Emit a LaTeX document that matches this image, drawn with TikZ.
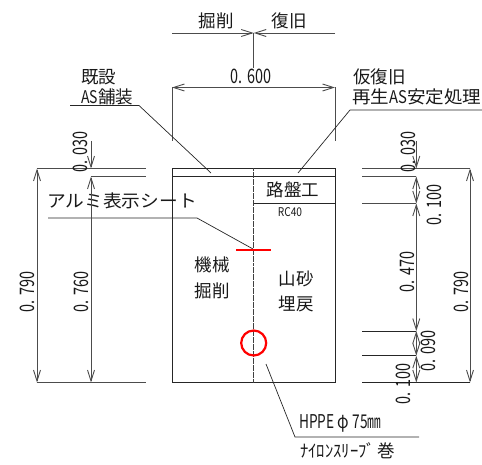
\documentclass[tikz,border=0pt]{standalone}
\usepackage{fontspec}
\setmainfont{Noto Sans CJK JP}
\usetikzlibrary{arrows.meta}
\newcommand{\sqz}[2]{\scalebox{#1}[1]{#2}}
\tikzset{
  ln/.style={draw=black!85,line width=0.9pt},
  dim/.style={draw=black!70,line width=0.9pt},
  dimb/.style={dim,{Straight Barb[length=11pt,width=7pt]}-{Straight Barb[length=11pt,width=7pt]}},
  dime/.style={dim,-{Straight Barb[length=11pt,width=7pt]}},
  lead/.style={draw=black!85,line width=0.7pt},
  red/.style={draw=red,line width=2.2pt},
  lab/.style={inner sep=0pt,font=\fontsize{17.5}{17.5}\selectfont,text=black!90},
  num/.style={lab,font=\fontsize{20}{20}\selectfont,rotate=90},
  numh/.style={lab,font=\fontsize{20}{20}\selectfont},
}
\begin{document}
\begin{tikzpicture}[x=1pt,y=-1pt]
\useasboundingbox (0,0) rectangle (482,465);
% section box
\coordinate (tl) at (172,168.5); \coordinate (tr) at (335,168.5);
\coordinate (sl) at (172,176.5); \coordinate (sr) at (335,176.5);
\coordinate (bl) at (172,382.5); \coordinate (br) at (335,382.5);
\coordinate (ct) at (253.7,168.5); \coordinate (cb) at (253.7,382.5);
\coordinate (bm) at (253.7,203.5); \coordinate (bm2) at (335,203.5);
\draw[ln] (tl) -- (tr) -- (br) -- (bl) -- cycle;
\draw[ln] (sl) -- (sr);
\draw[ln] (bm) -- (bm2);
\draw[draw=black!75,line width=0.7pt,dash pattern=on 3pt off 0.5pt] (ct) -- (cb);
% top dims
\coordinate (k1) at (172,33); \coordinate (k2) at (253.7,33); \coordinate (k3) at (335,33); \coordinate (k4) at (253.7,68);
\draw[dim,-{Straight Barb[length=11pt,width=7pt]}] (k1) -- (k2);
\draw[dim,-{Straight Barb[length=11pt,width=7pt]}] (k3) -- (k2);
\draw[dim] (k2) -- (k4);
\coordinate (w1) at (172,87.5); \coordinate (w2) at (335,87.5);
\coordinate (w1b) at (172,141); \coordinate (w2b) at (335,141);
\draw[dimb] (w1) -- (w2);
\draw[dim] (w1) -- (w1b);
\draw[dim] (w2) -- (w2b);
\node[lab] (kutsu) at (216,21) {掘削};
\node[lab] (fuku) at (289,21) {復旧};
\node[numh] (w600) at (251,76) {\sqz{.72}{0. 600}};
% leaders
\coordinate (a1) at (70,105.5); \coordinate (a2) at (139,105.5); \coordinate (a3) at (211,173);
\draw[lead] (a1) -- (a2) -- (a3);
\node[lab,anchor=west] (kisetsu) at (81,77) {既設};
\node[lab,anchor=west] (aspave) at (81,97) {\sqz{.8}{AS}舗装};
\coordinate (b1) at (482,110); \coordinate (b2) at (350,110); \coordinate (b3) at (298,173);
\draw[lead] (b1) -- (b2) -- (b3);
\node[lab,anchor=west] (karifuku) at (353,77) {仮復旧};
\node[lab,anchor=west] (saisei) at (352,97) {\sqz{1.06}{再生\sqz{.8}{AS}安定処理}};
\coordinate (c1) at (48,218); \coordinate (c2) at (197,218); \coordinate (c3) at (253,249);
\draw[lead] (c1) -- (c2) -- (c3);
\node[lab] (alumi) at (122,201) {\sqz{1.07}{アルミ表示シート}};
% labels
\node[lab] (robang) at (293,190) {路盤工};
\node[lab,font=\fontsize{12}{12}\selectfont] (rc) at (290,212) {\sqz{.85}{RC40}};
\node[lab] (kikai) at (212,265) {機械};
\node[lab] (kussaku) at (212,291) {掘削};
\node[lab] (yamasuna) at (296,279) {山砂};
\node[lab] (umemodoshi) at (296,304) {埋戻};
% red marks
\coordinate (r1) at (236,250); \coordinate (r2) at (271,250);
\draw[red] (r1) -- (r2);
\node[red,circle,minimum size=25pt,inner sep=0pt] (pipe) at (253.7,343) {};
% left dims
\coordinate (l1) at (37,168.5); \coordinate (l2) at (146,168.5);
\coordinate (l3) at (91,176.5); \coordinate (l4) at (146,176.5);
\coordinate (l5) at (37,382.5); \coordinate (l6) at (146,382.5);
\coordinate (l7) at (91,382.5); \coordinate (l8) at (91,168.5); \coordinate (l9) at (91,141);
\draw[dim] (l1) -- (l2);
\draw[dim] (l3) -- (l4);
\draw[dim] (l5) -- (l6);
\draw[dimb] (l1) -- (l5);
\draw[dimb] (l3) -- (l7);
\draw[dime] (l9) -- (l8);
\node[num] (t1) at (80,152) {\sqz{.72}{0. 030}};
\node[num] (t2) at (27,292) {\sqz{.72}{0. 790}};
\node[num] (t3) at (81,292) {\sqz{.72}{0. 760}};
% right dims
\coordinate (m1) at (362,168.5); \coordinate (m2) at (470,168.5);
\coordinate (m3) at (362,176.5); \coordinate (m4) at (416.3,176.5);
\coordinate (m5) at (362,203.5); \coordinate (m6) at (416.3,203.5);
\coordinate (m7) at (362,331); \coordinate (m8) at (416.3,331);
\coordinate (m9) at (362,355.7); \coordinate (m10) at (416.3,355.7);
\coordinate (m11) at (362,382.5); \coordinate (m12) at (470,382.5);
\coordinate (m13) at (416.3,382.5); \coordinate (m14) at (416.3,168.5); \coordinate (m15) at (416.3,141);
\draw[dim] (m1) -- (m2);
\draw[dim] (m3) -- (m4);
\draw[dim] (m5) -- (m6);
\draw[ln] (m7) -- (m8);
\draw[ln] (m9) -- (m10);
\draw[ln] (m11) -- (m12);
\draw[dimb] (m2) -- (m12);
\draw[dime] (m15) -- (m14);
\draw[dimb] (m4) -- (m6);
\draw[dimb] (m6) -- (m8);
\draw[dimb] (m8) -- (m10);
\draw[dimb] (m10) -- (m13);
\node[num] (u1) at (408,152) {\sqz{.72}{0. 030}};
\node[num] (u2) at (434,205) {\sqz{.72}{0. 100}};
\node[num] (u3) at (407,272) {\sqz{.72}{0. 470}};
\node[num] (u4) at (461,292) {\sqz{.72}{0. 790}};
\node[num] (u5) at (428,351) {\sqz{.72}{0. 090}};
\node[num] (u6) at (403,384) {\sqz{.72}{0. 100}};
% HPPE leader
\coordinate (h1) at (266,364); \coordinate (h2) at (295,437); \coordinate (h3) at (419,437);
\draw[lead] (h1) -- (h2) -- (h3);
\node[lab,anchor=west,font=\fontsize{19}{19}\selectfont] (hppe) at (299,423) {\sqz{.72}{HPPE}\,\sqz{.8}{φ}\,\sqz{.72}{75㎜}};
\node[lab,anchor=west] (nylon) at (300,451) {\sqz{.95}{ﾅｲﾛﾝｽﾘｰﾌﾞ}\,巻};
\end{tikzpicture}
\end{document}
